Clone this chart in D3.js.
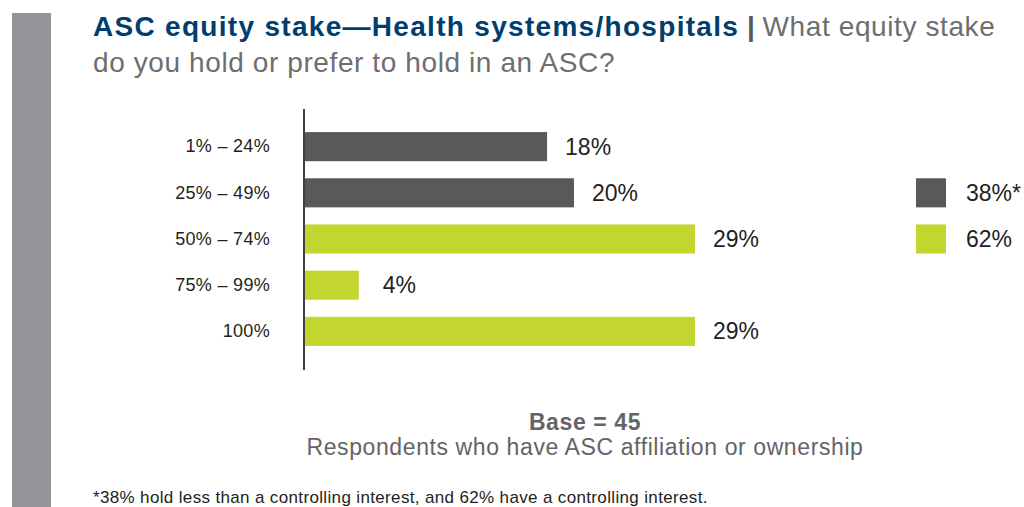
<!DOCTYPE html>
<html>
<head>
<meta charset="utf-8">
<script src="https://cdn.jsdelivr.net/npm/d3@7"></script>
<style>
  html, body { margin: 0; padding: 0; background: #fff; }
  svg { display: block; font-family: "Liberation Sans", Arial, Helvetica, sans-serif; }
</style>
</head>
<body>
<svg id="chart" width="1024" height="507"></svg>
<script>
// Equity stake ranges and share of respondents (%)
const categories = ["1% \u2013 24%", "25% \u2013 49%", "50% \u2013 74%", "75% \u2013 99%", "100%"];
const values = [18, 20, 29, 4, 29];
const groups = ["minority", "minority", "controlling", "controlling", "controlling"];
const legendLabels = ["38%*", "62%"];
const legendGroups = ["minority", "controlling"];

const colors = { minority: "#58595b", controlling: "#c3d62f" };

const svg = d3.select("#chart");

// Left accent band
svg.append("rect").attr("x", 12).attr("y", 13).attr("width", 39).attr("height", 494).attr("fill", "#939598");

// Title block
const title = svg.append("text").attr("x", 93).attr("y", 36).attr("font-size", 28);
title.append("tspan").attr("font-weight", "bold").attr("fill", "#003e6e").attr("letter-spacing", 1.3)
  .text("ASC equity stake\u2014Health systems/hospitals");
title.append("tspan").attr("font-weight", "bold").attr("fill", "#58595b").text(" | ");
title.append("tspan").attr("fill", "#6d6e71").attr("letter-spacing", 0.6).text("What equity stake");
svg.append("text").attr("x", 93).attr("y", 72).attr("font-size", 28).attr("fill", "#6d6e71")
  .attr("letter-spacing", 0.6)
  .text("do you hold or prefer to hold in an ASC?");

// Scales
const x = d3.scaleLinear().domain([0, 29]).range([305, 695]);
const y = d3.scaleBand().domain(categories).range([109, 369]).paddingInner(0.37).paddingOuter(0.5);

// Bars
svg.append("g").selectAll("rect").data(categories).join("rect")
  .attr("x", x(0))
  .attr("y", d => y(d))
  .attr("width", (d, i) => x(values[i]) - x(0))
  .attr("height", y.bandwidth())
  .attr("fill", (d, i) => colors[groups[i]]);

// Value labels
svg.append("g").selectAll("text").data(categories).join("text")
  .attr("x", (d, i) => x(values[i]) + (values[i] < 10 ? 24 : 18))
  .attr("y", d => y(d) + y.bandwidth() / 2)
  .attr("dy", "0.35em")
  .attr("font-size", 23)
  .attr("fill", "#231f20")
  .text((d, i) => values[i] + "%");

// Category axis
const axis = svg.append("g").attr("transform", `translate(${x(0) - 1},0)`)
  .call(d3.axisLeft(y).tickSize(0).tickPadding(34));
axis.select(".domain").remove();
axis.selectAll("text").attr("font-size", 18).attr("fill", "#231f20").attr("letter-spacing", 0.3)
  .attr("font-family", "\"Liberation Sans\", Arial, sans-serif");
svg.append("line").attr("x1", 304).attr("x2", 304).attr("y1", 109).attr("y2", 370)
  .attr("stroke", "#414042").attr("stroke-width", 2);

// Legend
const legend = svg.append("g").selectAll("g").data(legendLabels).join("g")
  .attr("transform", (d, i) => `translate(916,${y(categories[i + 1])})`);
legend.append("rect").attr("width", 30).attr("height", y.bandwidth())
  .attr("fill", (d, i) => colors[legendGroups[i]]);
legend.append("text").attr("x", 50).attr("y", y.bandwidth() / 2).attr("dy", "0.35em")
  .attr("font-size", 23).attr("fill", "#231f20").text(d => d);

// Base note
svg.append("text").attr("x", 585).attr("y", 430).attr("text-anchor", "middle")
  .attr("font-size", 23).attr("font-weight", "bold").attr("fill", "#636466").attr("letter-spacing", 0.6)
  .text("Base = 45");
svg.append("text").attr("x", 585).attr("y", 455).attr("text-anchor", "middle")
  .attr("font-size", 23).attr("fill", "#636466").attr("letter-spacing", 0.6)
  .text("Respondents who have ASC affiliation or ownership");

// Footnote
svg.append("text").attr("x", 93).attr("y", 503).attr("font-size", 17).attr("fill", "#231f20")
  .attr("letter-spacing", 0.35)
  .text("*38% hold less than a controlling interest, and 62% have a controlling interest.");
</script>
</body>
</html>
